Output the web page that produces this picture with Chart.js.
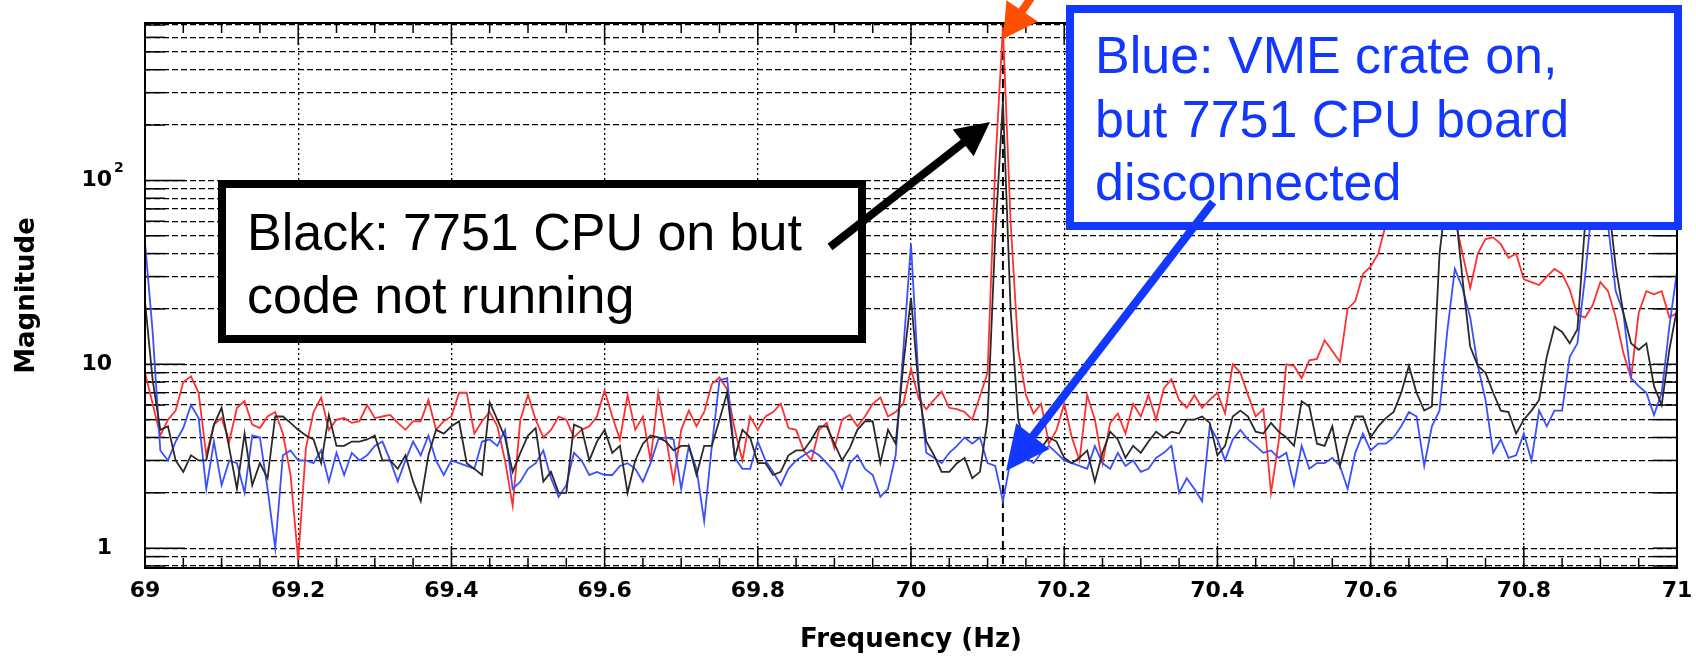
<!DOCTYPE html>
<html>
<head>
<meta charset="utf-8">
<script src="https://cdn.jsdelivr.net/npm/chart.js@4.4.1/dist/chart.umd.min.js"></script>
<style>
  html, body { margin: 0; padding: 0; background: #fff; }
</style>
</head>
<body>
<canvas id="chart" width="1696" height="658"></canvas>
<script>
var freqStart = 69, freqStep = 0.01 // spectrum bins, Hz

// Magnitudes, one value per 0.01 Hz from 69.00 to 71.00
var redMag = [
    9, 6.1, 4.1, 5, 5.6, 8, 8.6, 7, 3.2, 4.7,
    5.1, 3.8, 5.8, 6.3, 4.7, 4.5, 5.2, 5.5, 4.2, 2.5,
    0.86, 3.5, 5.5, 6.6, 4.4, 5, 5.1, 4.8, 4.9, 6,
    5.1, 5.2, 5.3, 4.8, 4.4, 4.9, 4.9, 6.4, 4.4, 4.9,
    5.2, 7, 7, 4.2, 4.9, 5.5, 4.6, 3.0, 1.7, 5.0,
    6.8, 5, 4, 4.4, 5.2, 5, 4, 4.4, 4.6, 5.2,
    7.2, 5.2, 3.9, 6.8, 4.4, 5.2, 3, 7, 4, 2.3,
    4.4, 5.6, 4.6, 5.5, 7.8, 8.5, 7.3, 4.4, 3, 5.2,
    4.4, 5.2, 5.5, 6.1, 4.5, 4.4, 3.4, 3, 4.4, 4.8,
    3.5, 5, 5.3, 4.6, 5.2, 6.1, 6.6, 5.2, 5.5, 6.1,
    9.5, 6.5, 5.7, 6.4, 7.1, 5.8, 5.7, 5.5, 5, 6.7,
    9, 120, 680, 60, 12, 6.8, 5.4, 6.1, 3.7, 4.4,
    6.1, 4, 3, 6.8, 5, 2.9, 4.8, 5.4, 4.2, 6.1,
    5.2, 6.8, 5, 7.4, 8.3, 6.4, 5.8, 6.8, 5.8, 6.4,
    7, 5.4, 10, 9, 6.8, 5.2, 5.7, 2, 3.8, 10,
    9.8, 8.4, 10.5, 10.7, 13.5, 11.8, 10.3, 20, 22, 31,
    34, 40, 58, 75, 95, 115, 125, 130, 120, 100,
    85, 62, 40, 26, 40, 48, 49, 45, 38, 40,
    29, 28, 27, 30, 33, 31, 25.5, 18.5, 18, 21,
    28, 25, 18, 11.5, 8.4, 19, 25, 24, 25, 18,
    19
]
var blackMag = [
    22, 8.2, 4.4, 4.6, 3, 2.6, 3.2, 3, 3, 4.7,
    5.8, 3.5, 2.1, 4.2, 2.2, 2.9, 2.4, 5.2, 5.2, 4.8,
    4.4, 4.1, 3.9, 2.9, 5.3, 3.6, 3.6, 3.8, 3.8, 3.9,
    4.1, 3, 3, 2.7, 3.2, 2.3, 1.8, 3.2, 4.4, 4.2,
    4.6, 4.9, 2.9, 2.7, 2.5, 6.2, 5, 4, 2.6, 3.3,
    4.1, 4.5, 2.3, 2.6, 2, 2, 4.7, 4.5, 3, 3.8,
    4.4, 3.3, 3.6, 2, 3, 3.7, 4.1, 4, 3.8, 3.4,
    3.6, 3.6, 2.5, 3.6, 3.6, 5, 7, 3.1, 4.4, 4,
    2.9, 2.9, 2.5, 2.6, 3.2, 3.4, 3.4, 3.9, 4.6, 4.6,
    3.7, 3, 3.5, 4.4, 4.9, 4.9, 2.9, 4.4, 3.7, 10,
    23, 7.5, 3.8, 3.2, 2.6, 2.6, 2.9, 3.1, 2.4, 2.6,
    5, 50, 270, 20, 5, 3.5, 3.8, 3.5, 4, 3.8,
    3.1, 2.9, 3.1, 3.4, 2.3, 3.3, 4.3, 3.9, 3.1, 3.6,
    3.3, 3.8, 4.3, 4, 4.3, 4.2, 5, 5, 5.2, 4.8,
    3.2, 3.6, 5.2, 5.6, 5.2, 4.3, 4.2, 4.8, 4.3, 4,
    3.6, 6.3, 5.9, 3.7, 3.6, 4.6, 2.8, 4, 5.2, 5.2,
    4, 4.6, 5.1, 5.5, 7, 9.8, 7, 5.6, 5.9, 40,
    90, 75, 29, 12.5, 9.8, 9, 7, 5.6, 5.5, 4.2,
    5, 5.6, 6.4, 11, 16, 15, 13, 15.5, 58, 95,
    110, 80, 34, 19, 13, 12, 13, 7.6, 6, 12,
    20
]
var blueMag = [
    46, 15, 3.4, 3, 3.8, 4.5, 6, 5.1, 2.1, 3.8,
    2.2, 3, 2.9, 2, 4.1, 4, 2.1, 1.0, 3.2, 3.4,
    3, 3, 2.9, 3.4, 2.3, 3.3, 2.5, 3.3, 3, 3.2,
    3.6, 3.8, 3, 2.3, 3, 3.8, 3.2, 4.1, 3, 2.5,
    3, 2.9, 2.8, 2.7, 3.8, 3.9, 3.6, 4.4, 2.1, 2.3,
    2.7, 2.9, 3.4, 2.4, 1.9, 2.2, 3.3, 3, 2.5, 2.6,
    2.5, 2.5, 2.8, 2.9, 2.7, 2.3, 2.9, 3.9, 4, 3.9,
    2.1, 3.6, 2.7, 1.4, 3.6, 8.2, 8.4, 3.1, 2.7, 2.7,
    3.8, 3, 2.6, 2.2, 2.7, 3, 3.2, 3.4, 3.2, 2.9,
    2.6, 2.1, 2.9, 3.2, 2.7, 2.5, 1.9, 2.1, 3.2, 12,
    45, 8, 3.3, 3.1, 2.9, 3.3, 3.6, 4, 3.7, 4,
    2.9, 2.8, 1.8, 3, 3.3, 3.1, 2.9, 3.3, 3.6, 3.3,
    3, 2.9, 2.8, 2.7, 3.6, 2.9, 2.7, 3.3, 2.8, 3,
    2.6, 2.7, 3.1, 3.3, 3.6, 2, 2.4, 2.1, 1.8, 4.6,
    3.9, 3, 3.9, 4.4, 3.9, 3.6, 3.3, 3.4, 3.1, 3.3,
    2.2, 3.6, 2.7, 2.9, 2.9, 3.1, 2.8, 2.1, 3.3, 4.2,
    3.4, 3.7, 3.7, 4, 4.6, 5.5, 5.2, 2.8, 4.6, 5.6,
    15, 33, 26, 18, 9.8, 6.4, 3.3, 3.9, 3.1, 3.2,
    4.2, 3, 5.6, 4.6, 5.6, 5.6, 11, 13, 30, 80,
    90, 57, 25, 19, 8.4, 7.6, 7, 5.3, 7, 16,
    32
]

var xTickValues = [69, 69.2, 69.4, 69.6, 69.8, 70, 70.2, 70.4, 70.6, 70.8, 71]
var xTickLabels = ['69', '69.2', '69.4', '69.6', '69.8', '70', '70.2', '70.4', '70.6', '70.8', '71']
var yTickValues = [0.8, 0.9, 1, 2, 3, 4, 5, 6, 7, 8, 9, 10, 20, 30, 40, 50, 60, 70, 80, 90, 100, 200, 300, 400, 500, 600, 700]
var yDecades = [1, 10, 100]
var yDecadeLabels = ['1', '10', '10']
var markerFreq = 70.12 // dashed line through the main peak

var plotTop = 23, plotBottom = 568 // where the frame sits in the 658px canvas

var freqs = redMag.map((_, i) => +(freqStart + i * freqStep).toFixed(2))

function toPoints(values) {
    return values.map((v, i) => ({ x: freqs[i], y: v }))
}

function line(ctx, x1, y1, x2, y2) {
    ctx.beginPath()
    ctx.moveTo(x1, y1)
    ctx.lineTo(x2, y2)
    ctx.stroke()
}

function drawArrow(ctx, x1, y1, x2, y2, color, width, headLen, headWidth) {
    var dx = x2 - x1, dy = y2 - y1, len = Math.hypot(dx, dy)
    var ux = dx / len, uy = dy / len
    var bx = x2 - ux * headLen, by = y2 - uy * headLen
    ctx.strokeStyle = color
    ctx.fillStyle = color
    ctx.lineWidth = width
    line(ctx, x1, y1, bx + ux * 2, by + uy * 2)
    ctx.beginPath()
    ctx.moveTo(x2, y2)
    ctx.lineTo(bx - uy * headWidth / 2, by + ux * headWidth / 2)
    ctx.lineTo(bx + uy * headWidth / 2, by - ux * headWidth / 2)
    ctx.closePath()
    ctx.fill()
}

function drawNote(ctx, box, lines, color) {
    ctx.fillStyle = '#fff'
    ctx.fillRect(box.x, box.y, box.w, box.h)
    ctx.strokeStyle = color
    ctx.lineWidth = 8
    ctx.strokeRect(box.x + 4, box.y + 4, box.w - 8, box.h - 8)
    ctx.fillStyle = color
    ctx.font = '52px "Liberation Sans", Arial, sans-serif'
    ctx.textAlign = 'left'
    ctx.textBaseline = 'alphabetic'
    lines.forEach((t, i) => ctx.fillText(t, box.textX, box.baseY + i * box.lineGap))
}

// grid extras: solid tick stubs at the edges, minor x ticks, marker line, frame
var frameTicks = {
    id: 'frameTicks',
    beforeDatasetsDraw(chart) {
        var ctx = chart.ctx, a = chart.chartArea, xs = chart.scales.x, ys = chart.scales.y
        ctx.save()
        ctx.strokeStyle = '#000'
        ctx.lineWidth = 1.5
        yTickValues.forEach(v => {
            var py = ys.getPixelForValue(v)
            var major = yDecades.includes(v)
            line(ctx, a.left, py, a.left + (major ? 40 : 20), py)
            line(ctx, a.right - 24, py, a.right, py)
        })
        for (var i = 0; i <= 40; i++) {
            var px = xs.getPixelForValue(69 + i * 0.05)
            var len = i % 4 == 0 ? 22 : 10
            line(ctx, px, a.bottom, px, a.bottom - len)
            line(ctx, px, a.top, px, a.top + len)
        }
        ctx.lineWidth = 2
        ctx.setLineDash([9, 5])
        var mx = xs.getPixelForValue(markerFreq)
        line(ctx, mx, a.top, mx, a.bottom)
        ctx.restore()
    },
    afterDatasetsDraw(chart) {
        var ctx = chart.ctx, a = chart.chartArea
        ctx.save()
        ctx.strokeStyle = '#000'
        ctx.lineWidth = 2
        ctx.strokeRect(a.left, a.top, a.right - a.left, a.bottom - a.top)
        // exponent of the 10^2 label
        var ys = chart.scales.y
        ctx.fillStyle = '#000'
        ctx.font = 'bold 14px "DejaVu Sans"'
        ctx.textAlign = 'left'
        ctx.textBaseline = 'alphabetic'
        ctx.fillText('2', a.left - 31, ys.getPixelForValue(100) - 8)
        ctx.restore()
    }
}

var notes = {
    id: 'notes',
    afterDraw(chart) {
        var ctx = chart.ctx
        ctx.save()
        drawNote(ctx, { x: 218, y: 180, w: 648, h: 163, textX: 247, baseY: 250, lineGap: 63 },
            ['Black: 7751 CPU on but', 'code not running'], '#000')
        drawNote(ctx, { x: 1066, y: 5, w: 616, h: 225, textX: 1095, baseY: 73, lineGap: 63.5 },
            ['Blue: VME crate on,', 'but 7751 CPU board', 'disconnected'], '#1238ff')
        drawArrow(ctx, 830, 247, 990, 122, '#000', 8, 34, 34)
        drawArrow(ctx, 1213, 202, 1006, 471, '#1238ff', 8, 44, 42)
        drawArrow(ctx, 1050, -30, 1003, 39, '#ff5000', 8, 34, 38)
        ctx.restore()
    }
}

function renderChart() {
    var data = {
        datasets: [
            { label: 'Black', data: toPoints(blackMag), borderColor: '#2a2a2a' },
            { label: 'Blue', data: toPoints(blueMag), borderColor: '#3a50ff' },
            { label: 'Red', data: toPoints(redMag), borderColor: '#ff3030' }
        ]
    }
    data.datasets.forEach(d => {
        d.borderWidth = 1.8
        d.pointRadius = 0
        d.tension = 0
    })

    var tickFont = { family: 'DejaVu Sans', size: 22, weight: 'bold' }
    var titleFont = { family: 'DejaVu Sans', size: 26, weight: 'bold' }

    var config = {
        type: 'line',
        data: data,
        options: {
            responsive: false,
            animation: false,
            devicePixelRatio: 1,
            events: [],
            layout: { padding: { left: 0, top: plotTop, right: 19, bottom: 0 } },
            plugins: { legend: { display: false }, tooltip: { enabled: false } },
            scales: {
                x: {
                    type: 'linear',
                    min: 69,
                    max: 71,
                    afterBuildTicks: s => { s.ticks = xTickValues.map(v => ({ value: v })) },
                    afterFit: s => {
                        s.height = 658 - plotBottom
                        s.paddingLeft = 0
                        s.paddingRight = 0
                    },
                    grid: { color: '#000', lineWidth: 1.3, drawTicks: false },
                    border: { display: false, dash: [2, 3] },
                    ticks: {
                        autoSkip: false,
                        maxRotation: 0,
                        padding: 10,
                        color: '#000',
                        font: tickFont,
                        callback: (v, i) => xTickLabels[i]
                    },
                    title: { display: true, text: 'Frequency (Hz)', color: '#000', font: titleFont, padding: { top: 0, bottom: 2 } }
                },
                y: {
                    type: 'logarithmic',
                    min: 0.78,
                    max: 718,
                    afterBuildTicks: s => { s.ticks = yTickValues.map(v => ({ value: v })) },
                    afterFit: s => {
                        s.width = 145
                        s.paddingTop = 0
                        s.paddingBottom = 0
                    },
                    grid: { color: '#000', lineWidth: 1.3, drawTicks: false },
                    border: { display: false, dash: [6, 3] },
                    ticks: {
                        autoSkip: false,
                        padding: 33,
                        color: '#000',
                        font: tickFont,
                        callback: v => {
                            var k = yDecades.indexOf(v)
                            return k < 0 ? '' : yDecadeLabels[k]
                        }
                    },
                    title: { display: true, text: 'Magnitude', color: '#000', font: titleFont, padding: { top: 12, bottom: 0 } }
                }
            }
        },
        plugins: [frameTicks, notes]
    }
    return new Chart(document.getElementById('chart'), config)
}

var chart = renderChart()

// if the layout pushed the frame down, take that back out of the top padding
var shift = chart.chartArea.top - plotTop
if (Math.abs(shift) > 0.5) {
    chart.options.layout.padding.top = Math.max(0, plotTop - shift)
    chart.update()
}
</script>
</body>
</html>
